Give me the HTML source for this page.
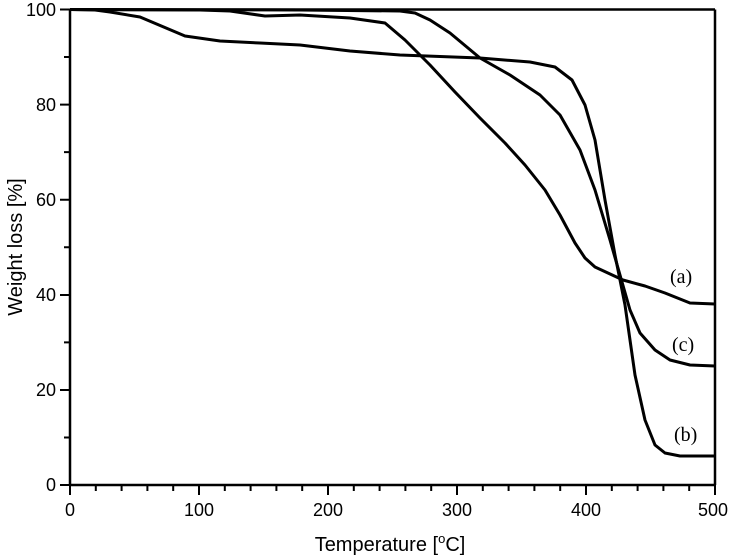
<!DOCTYPE html>
<html><head><style>body{margin:0;background:#fff}svg{display:block}</style></head><body>
<svg width="733" height="556" xmlns="http://www.w3.org/2000/svg" font-family="Liberation Sans, sans-serif">
<rect width="733" height="556" fill="#fff"/>
<g stroke="#000" stroke-width="2.5" fill="none">
<line x1="70" y1="9.5" x2="715" y2="9.5"/>
<line x1="715" y1="9.5" x2="715" y2="485"/>
<line x1="70" y1="9.5" x2="70" y2="485"/>
<line x1="70" y1="485" x2="715" y2="485"/>
</g>
<g stroke="#000" stroke-width="2">
<path d="M70 485v10M199 485v10M328 485v10M457 485v10M586 485v10M715 485v10"/>
<path d="M95.8 485v6M121.6 485v6M147.4 485v6M173.2 485v6M224.8 485v6M250.6 485v6M276.4 485v6M302.2 485v6M353.8 485v6M379.6 485v6M405.4 485v6M431.2 485v6M482.8 485v6M508.6 485v6M534.4 485v6M560.2 485v6M611.8 485v6M637.6 485v6M663.4 485v6M689.2 485v6"/>
<path d="M60 485h10M60 390h10M60 295h10M60 199.7h10M60 104.6h10M60 9.5h10"/>
<path d="M64 437.5h6M64 342.4h6M64 247.3h6M64 152.1h6M64 57h6"/>
</g>
<g font-size="18" text-anchor="end">
<text x="56" y="491">0</text><text x="56" y="396">20</text><text x="56" y="301">40</text><text x="56" y="206">60</text><text x="56" y="111">80</text><text x="56" y="16">100</text>
</g>
<g font-size="18" text-anchor="middle">
<text x="70" y="516">0</text><text x="199" y="516">100</text><text x="328" y="516">200</text><text x="457" y="516">300</text><text x="586" y="516">400</text><text x="713" y="516">500</text>
</g>
<text x="390" y="551" font-size="20" text-anchor="middle">Temperature [<tspan font-size="13" dy="-8">o</tspan><tspan dy="8">C]</tspan></text>
<text transform="translate(22,247) rotate(-90)" font-size="20" text-anchor="middle">Weight loss [%]</text>
<g stroke="#000" stroke-width="3" fill="none" stroke-linejoin="round">
<polyline points="70,9.5 200,10 230,11 265,16 300,15 350,18 385,23 405,40 430,65 455,92 480,118 505,143 525,165 545,190 560,215 575,243 585,258 595,267 623,280 645,286 665,293 690,303 715,304"/>
<polyline points="70,9.5 95,10 110,12 140,17 185,36 220,41 260,43 300,45 350,51 400,55 480,58 530,62 555,67 572,80 585,105 595,140 605,200 615,255 625,305 635,375 645,420 655,445 665,453 680,456 715,456"/>
<polyline points="70,9.5 300,10 400,11 415,13 430,20 450,33 480,58 510,75 540,95 560,115 580,150 595,190 610,240 620,275 630,310 640,333 655,350 670,360 690,365 715,366"/>
</g>
<g font-family="Liberation Serif, serif" font-size="20">
<text x="670" y="283">(a)</text><text x="672" y="351">(c)</text><text x="674" y="441">(b)</text>
</g>
</svg>
</body></html>
